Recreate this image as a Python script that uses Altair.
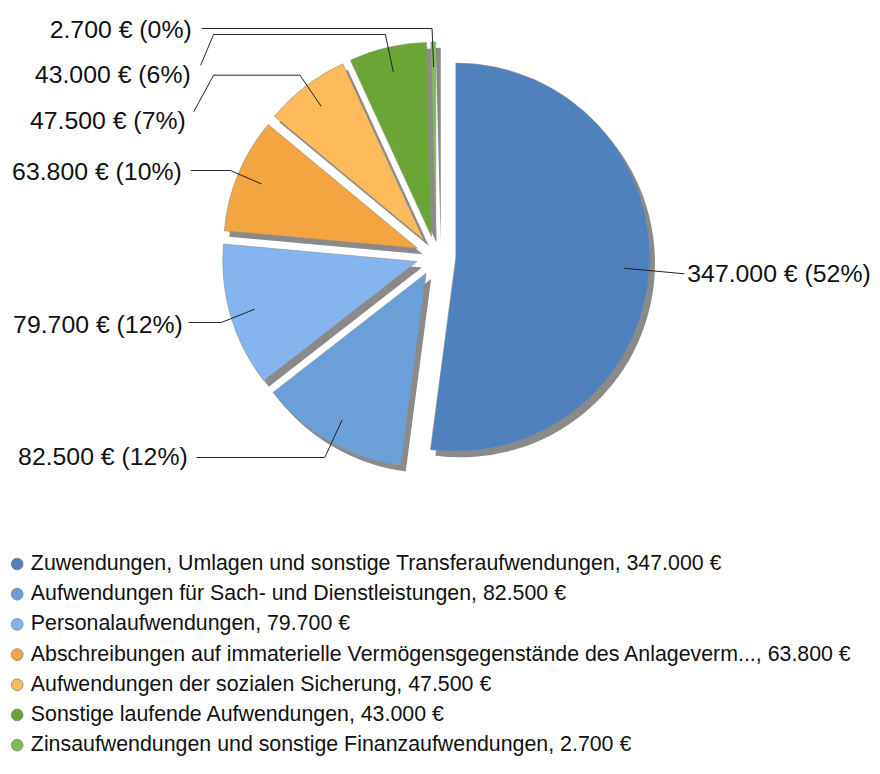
import math
import altair as alt
import pandas as pd

# ---------------- data ----------------
names = [
    "Zuwendungen, Umlagen und sonstige Transferaufwendungen",
    "Aufwendungen für Sach- und Dienstleistungen",
    "Personalaufwendungen",
    "Abschreibungen auf immaterielle Vermögensgegenstände des Anlageverm...",
    "Aufwendungen der sozialen Sicherung",
    "Sonstige laufende Aufwendungen",
    "Zinsaufwendungen und sonstige Finanzaufwendungen",
]
values = [347000, 82500, 79700, 63800, 47500, 43000, 2700]
colors = ["#4F81BD", "#6A9FD8", "#84B5EE", "#F2A541", "#FDBB5B", "#6AA535", "#7DBF4F"]

# ---------------- layout (styling, not data) ----------------
CX, CY = 439, 255      # pie centre (page px, mapped through the x/y scales)
R = 195.5              # outer radius
EXPLODE = 20           # explosion distance
ANCHOR = 0.87          # leader start, fraction of radius
# label text anchor (x, y, align) and leader bends / end points
label_anchor = [(692, 273, "left"), (189, 458, "right"), (184, 325, "right"),
                (183, 171, "right"), (187, 119, "right"), (192, 72.5, "right"),
                (193, 27.5, "right")]
leader_bends = [[], [(327, 458)], [(223, 322)], [(232, 169)],
                [(302, 73), (215, 73)], [(388, 32), (215, 32)], [(435, 26)]]
leader_ends = [(689, 273), (198, 458), (190, 322), (192, 169),
               (195, 110), (202, 63), (203, 26)]


def de_num(v):
    return f"{v:,}".replace(",", ".")


total = sum(values)
rows, lines, labels = [], [], []
cum = 0
for i, (n, v) in enumerate(zip(names, values)):
    t0, t1 = cum, cum + v
    cum = t1
    a = math.pi * (t0 + t1) / total
    sx, sy = math.sin(a), -math.cos(a)
    vx, vy = CX + EXPLODE * sx, CY + EXPLODE * sy
    leg = f"{n}, {de_num(v)} €"
    rows.append(dict(legend=leg, t0=t0, t1=t1, vx=vx, vy=vy))
    pts = [(vx + ANCHOR * R * sx, vy + ANCHOR * R * sy)] + leader_bends[i] + [leader_ends[i]]
    for k, (px, py) in enumerate(pts):
        lines.append(dict(sid=i, k=k, px=px, py=py))
    pct = round(100 * v / total)
    lx, ly, al = label_anchor[i]
    labels.append(dict(text=f"{de_num(v)} € ({pct}%)", tx=lx, ty=ly, align=al))

df = pd.DataFrame(rows)
df_lines = pd.DataFrame(lines)
df_labels = pd.DataFrame(labels)

xs = alt.Scale(domain=[8, 878], nice=False, zero=False)
ys = alt.Scale(domain=[8, 764], nice=False, zero=False, reverse=True)
ts = alt.Scale(domain=[0, total], range=[0, 2 * math.pi])

arc_enc = dict(
    x=alt.X("vx:Q", scale=xs, axis=None),
    y=alt.Y("vy:Q", scale=ys, axis=None),
    theta=alt.Theta("t0:Q", scale=ts, stack=None),
    theta2="t1:Q",
)

shadow = alt.Chart(df).mark_arc(outerRadius=R, color="#8a8a8a", xOffset=5, yOffset=6).encode(**arc_enc)

pie = alt.Chart(df).mark_arc(outerRadius=R, stroke="#8f8f8f", strokeWidth=0.6).encode(
    color=alt.Color(
        "legend:N",
        scale=alt.Scale(domain=[r["legend"] for r in rows], range=colors),
        legend=alt.Legend(
            title=None, orient="none", legendX=-1.5, legendY=546.5,
            symbolType="circle", symbolSize=140, symbolStrokeWidth=0.8,
            symbolStrokeColor="#7f7f7f",
            labelFontSize=21.5, labelFont="Liberation Sans", labelColor="#111111",
            labelLimit=1000, rowPadding=7.4, labelOffset=3, padding=0,
        ),
    ),
    **arc_enc,
)

leaders = alt.Chart(df_lines).mark_line(color="#222222", strokeWidth=1).encode(
    x=alt.X("px:Q", scale=xs, axis=None),
    y=alt.Y("py:Q", scale=ys, axis=None),
    detail="sid:N",
    order="k:Q",
)


def text_layer(al):
    return alt.Chart(df_labels).transform_filter(alt.datum.align == al).mark_text(
        align=al, baseline="middle", fontSize=25, font="Liberation Sans", color="#111111"
    ).encode(
        x=alt.X("tx:Q", scale=xs, axis=None),
        y=alt.Y("ty:Q", scale=ys, axis=None),
        text="text:N",
    )


chart = alt.layer(shadow, pie, leaders, text_layer("left"), text_layer("right")).properties(
    width=870, height=756, padding=0, autosize=alt.AutoSizeParams(type="none")
).configure_view(stroke=None)

chart.save("out.html", embed_options={"renderer": "svg", "actions": False})
